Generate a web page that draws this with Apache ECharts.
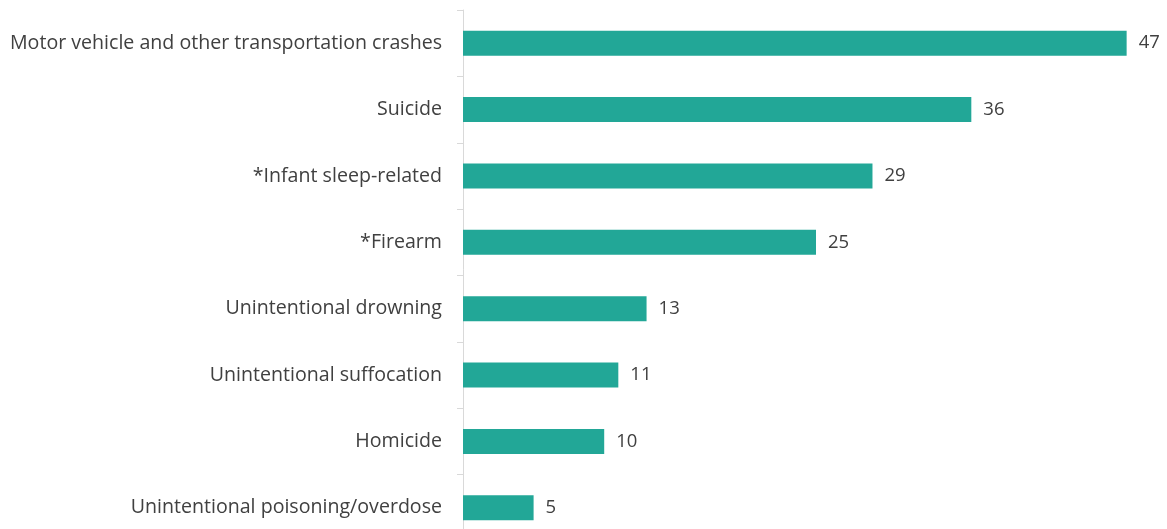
<!DOCTYPE html>
<html>
<head>
<meta charset="utf-8">
<script src="https://cdn.jsdelivr.net/npm/echarts@6/dist/echarts.min.js"></script>
<style>
  html, body { margin: 0; padding: 0; background: #ffffff; }
  #chart { width: 1167px; height: 529px; }
</style>
</head>
<body>
<div id="chart"></div>
<script>
// Causes of death, listed top to bottom
const categories = [
  'Motor vehicle and other transportation crashes',
  'Suicide',
  '*Infant sleep-related',
  '*Firearm',
  'Unintentional drowning',
  'Unintentional suffocation',
  'Homicide',
  'Unintentional poisoning/overdose'
];
const deaths = [47, 36, 29, 25, 13, 11, 10, 5];

const chart = echarts.init(document.getElementById('chart'), null, { renderer: 'canvas' });
chart.setOption({
  animation: false,
  grid: {
    left: 463, width: 706, top: 10, height: 531,
    containLabel: false,
    outerBoundsMode: 'none'
  },
  xAxis: {
    type: 'value',
    min: 0,
    max: 50,
    show: false
  },
  yAxis: {
    type: 'category',
    data: categories,
    inverse: true,
    axisLine: { show: true, lineStyle: { color: '#d9d9d9', width: 1 } },
    axisTick: { show: true, length: 6, lineStyle: { color: '#d9d9d9' } },
    axisLabel: {
      margin: 21,
      color: '#404040',
      fontFamily: 'Open Sans',
      fontSize: 19.6,
      padding: [3, 0, 0, 0]
    }
  },
  series: [{
    type: 'bar',
    data: deaths,
    barWidth: 25,
    itemStyle: { color: '#22a797' },
    label: {
      show: true,
      position: 'right',
      distance: 12,
      color: '#404040',
      fontFamily: 'Open Sans',
      fontSize: 18.5,
      padding: [3, 0, 0, 0]
    }
  }]
});
</script>
</body>
</html>
